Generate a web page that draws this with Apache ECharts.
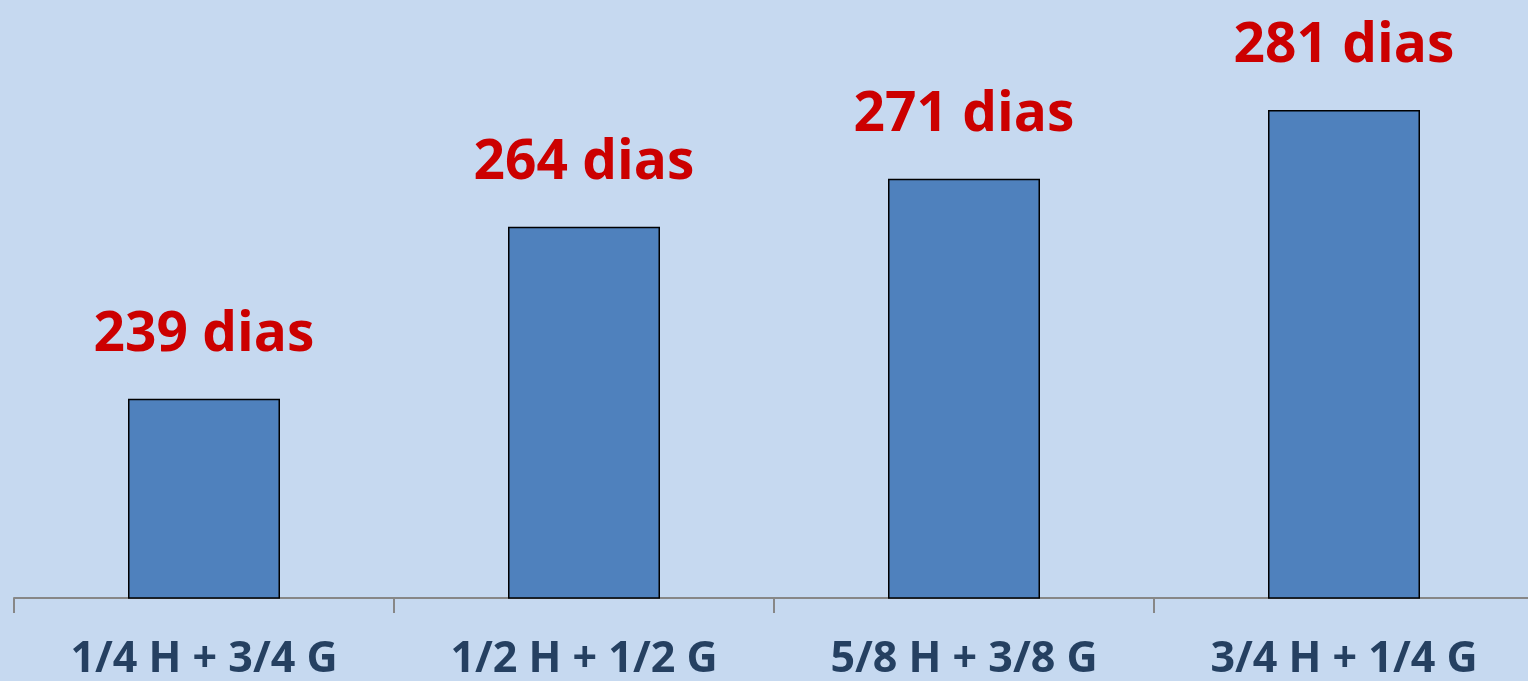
<!DOCTYPE html>
<html>
<head>
<meta charset="utf-8">
<script src="https://cdn.jsdelivr.net/npm/echarts@6/dist/echarts.min.js"></script>
<style>
  html, body { margin: 0; padding: 0; background: #C6D9F0; }
  #chart { width: 1528px; height: 681px; }
</style>
</head>
<body>
<div id="chart"></div>
<script>
// categorias e dias
var categorias = ['1/4 H + 3/4 G', '1/2 H + 1/2 G', '5/8 H + 3/8 G', '3/4 H + 1/4 G'];
var dias = [239, 264, 271, 281];

var chart = echarts.init(document.getElementById('chart'));
var option = {
  backgroundColor: '#C6D9F0',
  animation: false,
  grid: {
    left: 14,
    top: 0,
    width: 1520,
    height: 598,
    outerBoundsMode: 'none'
  },
  xAxis: {
    type: 'category',
    data: categorias,
    axisLine: { lineStyle: { color: '#878787', width: 2 } },
    axisTick: { show: true, length: 15, lineStyle: { color: '#878787', width: 2 } },
    axisLabel: {
      margin: 40,
      color: '#254061',
      fontFamily: 'Open Sans',
      fontWeight: 'bold',
      fontSize: 43
    }
  },
  yAxis: {
    type: 'value',
    min: 210,
    max: 297,
    show: false,
    splitLine: { show: false }
  },
  series: [{
    type: 'bar',
    data: dias,
    barWidth: '40%',
    itemStyle: {
      color: '#4F81BD',
      borderColor: '#000000',
      borderWidth: 1.5
    },
    label: {
      show: true,
      position: 'top',
      distance: 36,
      formatter: '{c} dias',
      color: '#CC0000',
      fontFamily: 'Open Sans',
      fontWeight: 'bold',
      fontSize: 55
    }
  }]
};
chart.setOption(option);
</script>
</body>
</html>
